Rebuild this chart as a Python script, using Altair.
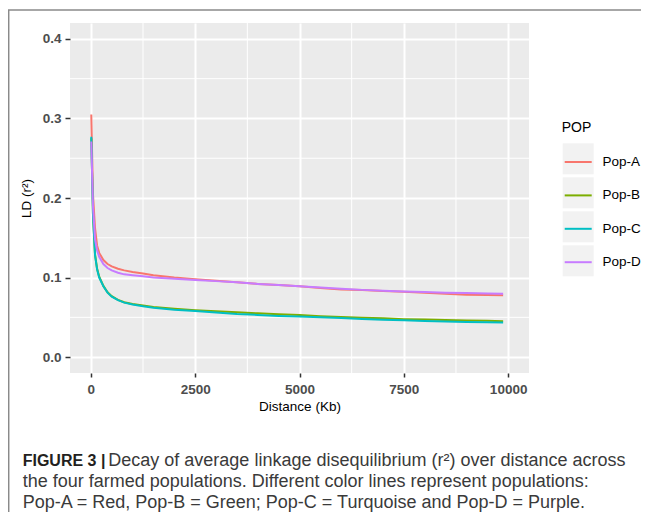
import altair as alt
import pandas as pd

# ---- data ----
populations = ["Pop-A", "Pop-B", "Pop-C", "Pop-D"]
colors = ["#F8766D", "#7CAE00", "#00BFC4", "#C77CFF"]

distance = [10, 50, 100, 150, 200, 300, 400, 500, 650, 800, 1000, 1250, 1500,
            2000, 2500, 3000, 3500, 4000, 4500, 5000, 5500, 6000, 6500, 7000,
            7500, 8000, 8500, 9000, 9500, 9880]

pop_a = [0.305, 0.205, 0.162, 0.140, 0.131, 0.122, 0.117, 0.114, 0.111, 0.109,
         0.107, 0.105, 0.103, 0.100, 0.098, 0.096, 0.094, 0.092, 0.0905, 0.089,
         0.087, 0.085, 0.0842, 0.083, 0.082, 0.0808, 0.0795, 0.0785, 0.078, 0.0779]
pop_b = [0.275, 0.180, 0.129, 0.111, 0.101, 0.0895, 0.0815, 0.0765, 0.072, 0.069,
         0.0668, 0.0648, 0.063, 0.0608, 0.059, 0.0575, 0.0563, 0.0550, 0.0538, 0.0528,
         0.0515, 0.0505, 0.0495, 0.0487, 0.0477, 0.0472, 0.0467, 0.046, 0.0456, 0.0452]
pop_c = [0.277, 0.180, 0.128, 0.110, 0.100, 0.089, 0.081, 0.076, 0.0715, 0.0685,
         0.066, 0.0638, 0.062, 0.0595, 0.0578, 0.056, 0.0542, 0.053, 0.0518, 0.051,
         0.050, 0.049, 0.048, 0.047, 0.0462, 0.0455, 0.0447, 0.044, 0.0437, 0.0436]
pop_d = [0.271, 0.190, 0.148, 0.134, 0.126, 0.117, 0.112, 0.109, 0.106, 0.104,
         0.103, 0.1015, 0.100, 0.0985, 0.097, 0.0955, 0.094, 0.092, 0.0905, 0.089,
         0.0875, 0.0858, 0.0845, 0.0835, 0.0825, 0.0818, 0.081, 0.0805, 0.080, 0.0796]

x_ticks = [0, 2500, 5000, 7500, 10000]
y_ticks = [0.0, 0.1, 0.2, 0.3, 0.4]
x_minor = [1250, 3750, 6250, 8750]
y_minor = [0.05, 0.15, 0.25, 0.35]

caption_bold = "FIGURE 3 |"
caption_l1 = "Decay of average linkage disequilibrium (r\u00b2) over distance across"
caption_l2 = "the four farmed populations. Different color lines represent populations:"
caption_l3 = "Pop-A = Red, Pop-B = Green; Pop-C = Turquoise and Pop-D = Purple."

# ---- tables ----
rows = []
for name, vals in zip(populations, [pop_a, pop_b, pop_c, pop_d]):
    for d, v in zip(distance, vals):
        rows.append({"distance": d, "ld": v, "POP": name, "key": name})
df = pd.DataFrame(rows)

FONT = "Liberation Sans"

xs = alt.Scale(domain=[-500, 10500], nice=False, zero=False)
ys = alt.Scale(domain=[-0.02, 0.42], nice=False, zero=False)

x_axis = alt.Axis(values=x_ticks, format="d", grid=True, gridColor="white", gridWidth=2,
                  domain=False, tickColor="#333333", tickSize=4, tickWidth=1.5,
                  labelFont=FONT, labelFontSize=13.5, labelFontWeight="bold",
                  labelColor="#4D4D4D", labelPadding=5, labelFlush=False,
                  title="Distance (Kb)", titleFont=FONT, titleFontSize=13.5,
                  titleFontWeight="normal", titleColor="black", titlePadding=4)
y_axis = alt.Axis(values=y_ticks, format=".1f", grid=True, gridColor="white", gridWidth=2,
                  domain=False, tickColor="#333333", tickSize=5, tickWidth=1.5,
                  labelFont=FONT, labelFontSize=13.5, labelFontWeight="bold",
                  labelColor="#4D4D4D", labelPadding=4, labelFlush=False,
                  title="LD (r\u00b2)", titleFont=FONT, titleFontSize=13.5,
                  titleFontWeight="normal", titleColor="black", titlePadding=9)

X = alt.X("distance:Q", scale=xs, axis=x_axis)
Y = alt.Y("ld:Q", scale=ys, axis=y_axis)

minor_v = alt.Chart(pd.DataFrame({"distance": x_minor})).mark_rule(
    color="white", strokeWidth=1).encode(x=X)
minor_h = alt.Chart(pd.DataFrame({"ld": y_minor})).mark_rule(
    color="white", strokeWidth=1).encode(y=Y)

# legend key backgrounds (grey boxes)
keys = alt.Chart(df).mark_square(size=0, opacity=0).encode(
    x=X, y=Y,
    fill=alt.Fill("key:N", scale=alt.Scale(range=["#F2F2F2"]),
                  legend=alt.Legend(orient="none", legendX=492.7, legendY=120.3,
                                    symbolType="square", symbolSize=961,
                                    symbolStrokeWidth=0, symbolOpacity=1,
                                    labelExpr="''", labelFontSize=10,
                                    title=None, rowPadding=3, padding=0, zindex=1)))

lines = alt.Chart(df).mark_line(strokeWidth=2).encode(
    x=X, y=Y,
    color=alt.Color("POP:N", scale=alt.Scale(domain=populations, range=colors),
                    legend=alt.Legend(orient="none", legendX=491.7, legendY=97.5,
                                      symbolType="stroke", symbolSize=729,
                                      symbolStrokeWidth=2, symbolOpacity=1,
                                      symbolOffset=2,
                                      titleFont=FONT, titleFontSize=14,
                                      titleFontWeight="normal", titleColor="black",
                                      titlePadding=13,
                                      labelFont=FONT, labelFontSize=13.5,
                                      labelColor="black", labelOffset=9.7,
                                      rowPadding=12.4, padding=0, zindex=2)))

one = pd.DataFrame({"a": [0]})
cap_style = dict(font=FONT, fontSize=18, align="left", baseline="alphabetic",
                 color="#3A3A3A")
cap0 = alt.Chart(one).mark_text(text=caption_bold, font=FONT, fontSize=16,
                                align="left", baseline="alphabetic", color="#231F20",
                                fontWeight="bold").encode(x=alt.value(-47.3), y=alt.value(443))
cap1 = alt.Chart(one).mark_text(text=caption_l1, **cap_style).encode(
    x=alt.value(38.3), y=alt.value(443))
cap2 = alt.Chart(one).mark_text(text=caption_l2, **cap_style).encode(
    x=alt.value(-47.3), y=alt.value(464.3))
cap3 = alt.Chart(one).mark_text(text=caption_l3, **cap_style).encode(
    x=alt.value(-47.3), y=alt.value(485.3))

frame_top = alt.Chart(one).mark_rule(color="#8A8A8A", strokeWidth=1.5).encode(
    x=alt.value(-62), x2=alt.value(571), y=alt.value(-13))
frame_left = alt.Chart(one).mark_rule(color="#8A8A8A", strokeWidth=1.5).encode(
    x=alt.value(-61.3), y=alt.value(-13), y2=alt.value(490))

chart = alt.layer(minor_v, minor_h, keys, lines, cap0, cap1, cap2, cap3,
                  frame_top, frame_left).properties(
    width=459, height=350,
    padding={"left": 62, "top": 15, "right": 112, "bottom": 139},
    autosize=alt.AutoSizeParams(type="none"),
).configure_view(fill="#EBEBEB", strokeWidth=0)

chart.save("out.html", embed_options={"renderer": "svg", "actions": False})
